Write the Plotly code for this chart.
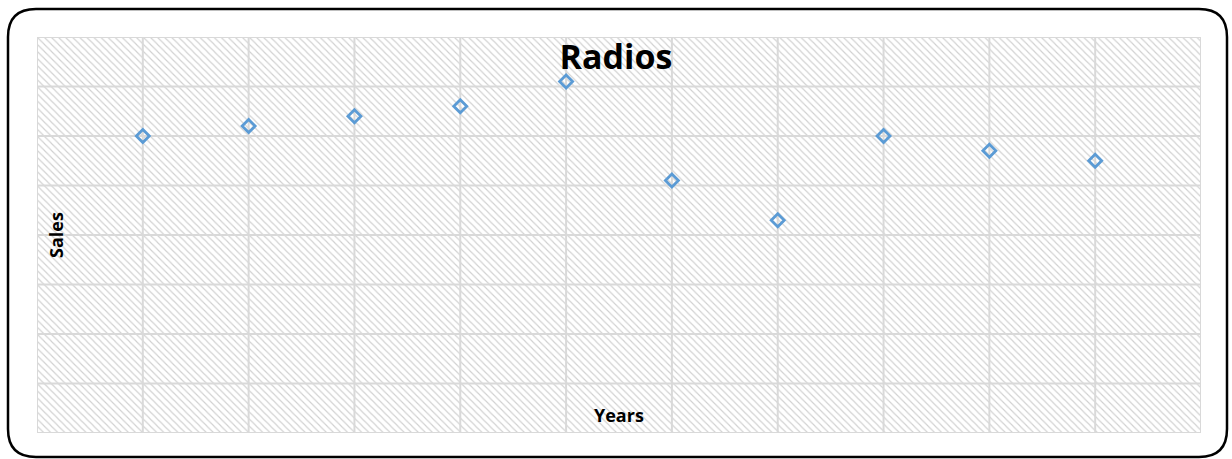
import plotly.graph_objects as go

# Radio sales by year
years = [1, 2, 3, 4, 5, 6, 7, 8, 9, 10]
sales = [60, 62, 64, 66, 71, 51, 43, 60, 57, 55]

x_range = [0, 11]
y_range = [0, 80]
x_step = 1
y_step = 10

W, H = 1232, 459
ML, MR, MT, MB = 37, 31, 37, 26
grid_col = "#d9d9d9"
marker_col = "#5b9bd5"

fig = go.Figure()

# hatched plot-area background
fig.add_trace(go.Scatter(
    x=[x_range[0], x_range[1], x_range[1], x_range[0], x_range[0]],
    y=[y_range[0], y_range[0], y_range[1], y_range[1], y_range[0]],
    mode="none", fill="toself", fillcolor="white",
    fillpattern=dict(shape="\\", size=5, solidity=0.22,
                     fgcolor="#d0d0d0", bgcolor="white", fillmode="replace"),
    hoverinfo="skip", showlegend=False,
))

# grid drawn over the hatching
gx, gy = [], []
v = x_range[0]
while v <= x_range[1] + 1e-9:
    gx += [v, v, None]
    gy += [y_range[0], y_range[1], None]
    v += x_step
v = y_range[0]
while v <= y_range[1] + 1e-9:
    gx += [x_range[0], x_range[1], None]
    gy += [v, v, None]
    v += y_step
fig.add_trace(go.Scatter(
    x=gx, y=gy, mode="lines", line=dict(color=grid_col, width=2),
    hoverinfo="skip", showlegend=False, cliponaxis=False,
))

fig.add_trace(go.Scatter(
    x=years, y=sales, mode="markers",
    marker=dict(symbol="diamond-open", size=10, color=marker_col,
                line=dict(width=2.8, color=marker_col)),
    showlegend=False,
))

# rounded outer frame, expressed in paper coordinates
pw = W - ML - MR
ph = H - MT - MB


def px(x):
    return (x - ML) / pw


def py(y):
    return (H - MB - y) / ph


x0, x1, y0, y1, r = 8, 1227, 9, 457, 28
path = (
    f"M {px(x0 + r)},{py(y0)} L {px(x1 - r)},{py(y0)} "
    f"Q {px(x1)},{py(y0)} {px(x1)},{py(y0 + r)} "
    f"L {px(x1)},{py(y1 - r)} Q {px(x1)},{py(y1)} {px(x1 - r)},{py(y1)} "
    f"L {px(x0 + r)},{py(y1)} Q {px(x0)},{py(y1)} {px(x0)},{py(y1 - r)} "
    f"L {px(x0)},{py(y0 + r)} Q {px(x0)},{py(y0)} {px(x0 + r)},{py(y0)} Z"
)
fig.add_shape(type="path", path=path, xref="paper", yref="paper",
              line=dict(color="black", width=2.5), layer="above")

fig.add_annotation(text="<b>Sales</b>", x=px(56), y=py(235), xref="paper", yref="paper",
                   xanchor="center", yanchor="middle",
                   textangle=-90, showarrow=False,
                   font=dict(family="Open Sans", size=18, color="black"))
fig.add_annotation(text="<b>Years</b>", x=0.5, y=py(415), xref="paper", yref="paper",
                   xanchor="center", yanchor="middle",
                   showarrow=False,
                   font=dict(family="Open Sans", size=18, color="black"))

fig.update_layout(
    width=W, height=H,
    margin=dict(l=ML, r=MR, t=MT, b=MB),
    paper_bgcolor="white", plot_bgcolor="white",
    title=dict(text="<b>Radios</b>", x=0.5, xanchor="center",
               y=1 - 57 / H, yanchor="middle",
               font=dict(family="Open Sans", size=34, color="black")),
    xaxis=dict(range=x_range, showticklabels=False, ticks="",
               showgrid=False, zeroline=False, showline=False),
    yaxis=dict(range=y_range, showticklabels=False, ticks="",
               showgrid=False, zeroline=False, showline=False),
)

fig.write_html("out.html")
